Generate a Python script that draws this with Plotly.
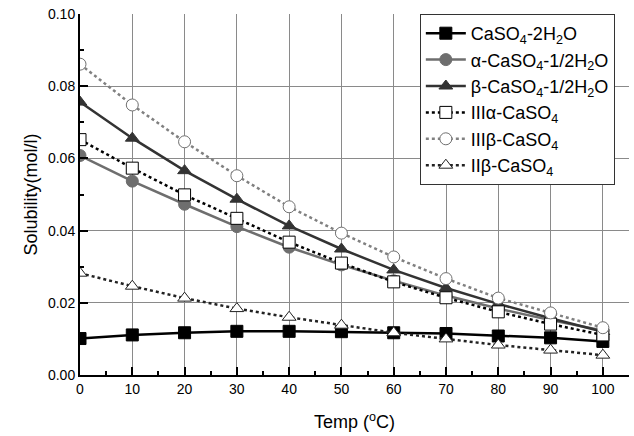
import plotly.graph_objects as go

temps = [0, 10, 20, 30, 40, 50, 60, 70, 80, 90, 100]

dihydrate = [0.0101, 0.0111, 0.0117, 0.0121, 0.0121, 0.0120, 0.0117, 0.0115, 0.0108, 0.0103, 0.0093]
alpha_hemi = [0.0608, 0.0537, 0.0473, 0.0411, 0.0354, 0.0305, 0.0261, 0.0220, 0.0184, 0.0152, 0.0123]
beta_hemi = [0.0756, 0.0656, 0.0566, 0.0487, 0.0413, 0.0349, 0.0291, 0.0241, 0.0197, 0.0157, 0.0120]
iii_alpha = [0.0652, 0.0573, 0.0499, 0.0434, 0.0368, 0.0310, 0.0258, 0.0214, 0.0175, 0.0141, 0.0111]
iii_beta = [0.0861, 0.0748, 0.0646, 0.0552, 0.0466, 0.0393, 0.0327, 0.0267, 0.0213, 0.0172, 0.0131]
ii_beta = [0.0282, 0.0246, 0.0213, 0.0184, 0.0160, 0.0138, 0.0117, 0.0100, 0.0083, 0.0069, 0.0055]

names = [
    "CaSO<sub>4</sub>-2H<sub>2</sub>O",
    "α-CaSO<sub>4</sub>-1/2H<sub>2</sub>O",
    "β-CaSO<sub>4</sub>-1/2H<sub>2</sub>O",
    "IIIα-CaSO<sub>4</sub>",
    "IIIβ-CaSO<sub>4</sub>",
    "IIβ-CaSO<sub>4</sub>",
]

fig = go.Figure()

def add(y, name, color, dash, symbol, mfill, mline):
    fig.add_trace(go.Scatter(
        x=temps, y=y, name=name, mode="lines+markers",
        line=dict(color=color, width=2.5, dash=dash),
        marker=dict(symbol=symbol, size=12, color=mfill, line=dict(color=mline, width=1)),
    ))

add(dihydrate, names[0], "#000000", "solid", "square", "#000000", "#000000")
add(alpha_hemi, names[1], "#6e6e6e", "solid", "circle", "#6e6e6e", "#6e6e6e")
add(beta_hemi, names[2], "#333333", "solid", "triangle-up", "#333333", "#333333")
add(iii_alpha, names[3], "#000000", "dot", "square", "#ffffff", "#000000")
add(iii_beta, names[4], "#808080", "dot", "circle", "#ffffff", "#707070")
add(ii_beta, names[5], "#222222", "dot", "triangle-up", "#ffffff", "#222222")

font_family = "Liberation Sans, Arial, sans-serif"

fig.update_layout(
    width=634, height=436,
    margin=dict(l=80, r=5, t=14, b=61),
    paper_bgcolor="white", plot_bgcolor="white",
    font=dict(family=font_family, size=14, color="black"),
    showlegend=True,
    legend=dict(
        x=0.619, y=1.0, xanchor="left", yanchor="top",
        bgcolor="white", bordercolor="#333333", borderwidth=1,
        font=dict(size=18, family=font_family, color="black"),
        tracegroupgap=0, itemwidth=40,
    ),
    xaxis=dict(
        range=[0, 105], dtick=10, tick0=0,
        showline=True, linecolor="black", linewidth=2,
        ticks="inside", ticklen=8, tickwidth=1.5, tickcolor="black",
        minor=dict(dtick=5, ticks="inside", ticklen=4, tickcolor="black", showgrid=False),
        showgrid=True, gridcolor="#8a8a8a", gridwidth=1,
        zeroline=False,
        title=dict(text="Temp (<sup>o</sup>C)", font=dict(size=18), standoff=20),
        tickfont=dict(size=14),
    ),
    yaxis=dict(
        range=[0, 0.1], dtick=0.02, tick0=0, tickformat=".2f",
        showline=True, linecolor="black", linewidth=2,
        ticks="inside", ticklen=8, tickwidth=1.5, tickcolor="black",
        minor=dict(dtick=0.01, ticks="inside", ticklen=4, tickcolor="black", showgrid=False),
        showgrid=True, gridcolor="#8a8a8a", gridwidth=1,
        zeroline=False,
        title=dict(text="Solubility(mol/l)", font=dict(size=18), standoff=6),
        tickfont=dict(size=14),
    ),
)

fig.write_html("out.html")
